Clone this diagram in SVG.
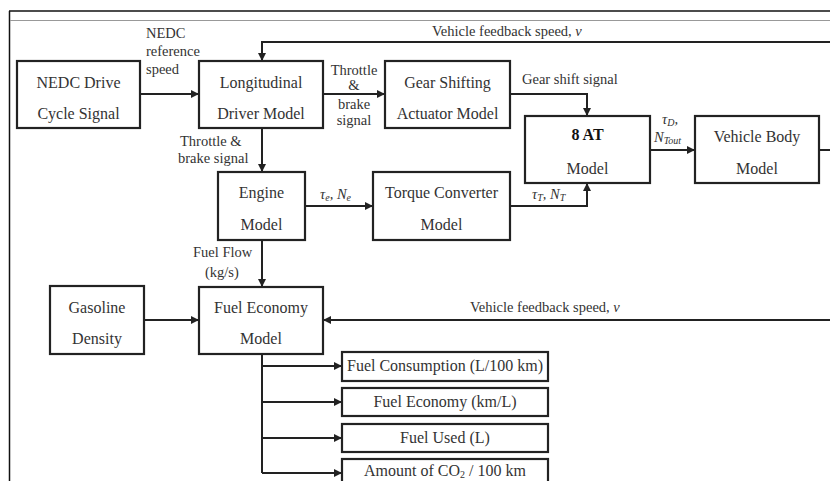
<svg xmlns="http://www.w3.org/2000/svg" width="830" height="481" viewBox="0 0 830 481">
<defs>
<marker id="ah" viewBox="0 0 8 8" refX="8" refY="4" markerWidth="4" markerHeight="4" orient="auto" markerUnits="strokeWidth">
<path d="M0,0 L8,4 L0,8 z" fill="#222"/>
</marker>
<style>
.box{fill:#fff;stroke:#222;stroke-width:2.2}
.nt{font-family:"Liberation Serif","Times New Roman",serif;font-size:16px;fill:#333;text-anchor:middle}
.bt{font-weight:bold;fill:#111}
.lb{font-family:"Liberation Serif","Times New Roman",serif;font-size:14.5px;fill:#333}
.it{font-style:italic}
.c{fill:none;stroke:#222;stroke-width:2}
.a{marker-end:url(#ah)}
</style>
</defs>
<rect x="0" y="0" width="830" height="481" fill="#fff"/>
<g id="frame">
<line x1="9" y1="11" x2="830" y2="11" stroke="#111" stroke-width="1.5"/>
<line x1="9.5" y1="11" x2="9.5" y2="481" stroke="#111" stroke-width="1.5"/>
<line x1="10" y1="20.5" x2="830" y2="20.5" stroke="#999" stroke-width="1"/>
</g>
<g id="connectors">
<path class="c a" d="M830,42 H262 V61"/>
<path class="c a" d="M140,94 H199"/>
<path class="c a" d="M323,94 H385"/>
<path class="c a" d="M510,94 H587 V116"/>
<path class="c a" d="M262,128 V172"/>
<path class="c a" d="M305,206 H373"/>
<path class="c a" d="M510,206 H587 V183"/>
<path class="c a" d="M650,150 H695"/>
<path class="c" d="M819,150 H830"/>
<path class="c a" d="M262,240 V287"/>
<path class="c a" d="M144,320 H199"/>
<path class="c a" d="M830,320 H323"/>
<path class="c" d="M262,354 V473"/>
<path class="c a" d="M262,366 H342"/>
<path class="c a" d="M262,402 H342"/>
<path class="c a" d="M262,438 H342"/>
<path class="c a" d="M262,473 H342"/>
</g>
<g id="labels">
<text class="lb" x="146" y="38">NEDC</text>
<text class="lb" x="146" y="56">reference</text>
<text class="lb" x="146" y="74">speed</text>
<text class="lb" x="354" y="75" text-anchor="middle">Throttle</text>
<text class="lb" x="354" y="90" text-anchor="middle">&amp;</text>
<text class="lb" x="354" y="109" text-anchor="middle">brake</text>
<text class="lb" x="354" y="125" text-anchor="middle">signal</text>
<text class="lb" x="432" y="36">Vehicle feedback  speed, <tspan class="it">v</tspan></text>
<text class="lb" x="522" y="84">Gear shift signal</text>
<text class="lb" x="180" y="146">Throttle &amp;</text>
<text class="lb" x="178" y="163">brake signal</text>
<text class="lb it" x="320" y="199">τ<tspan font-size="10" dy="2">e</tspan><tspan dy="-2">, N</tspan><tspan font-size="10" dy="2">e</tspan></text>
<text class="lb it" x="532" y="199">τ<tspan font-size="10" dy="2">T</tspan><tspan dy="-2">, N</tspan><tspan font-size="10" dy="2">T</tspan></text>
<text class="lb it" x="662" y="124">τ<tspan font-size="10" dy="2">D</tspan><tspan dy="-2">,</tspan></text>
<text class="lb it" x="654" y="142">N<tspan font-size="10" dy="2">Tout</tspan></text>
<text class="lb" x="193" y="257">Fuel Flow</text>
<text class="lb" x="205" y="277">(kg/s)</text>
<text class="lb" x="470" y="312">Vehicle feedback  speed, <tspan class="it">v</tspan></text>
</g>
<g id="nedc">
<rect class="box" x="17" y="61" width="123" height="67"/>
<text class="nt" x="78.5" y="88">NEDC Drive</text>
<text class="nt" x="78.5" y="119">Cycle Signal</text>
</g>
<g id="driver">
<rect class="box" x="199" y="61" width="124" height="67"/>
<text class="nt" x="261" y="88">Longitudinal</text>
<text class="nt" x="261" y="119">Driver Model</text>
</g>
<g id="gear">
<rect class="box" x="385" y="61" width="125" height="67"/>
<text class="nt" x="447.5" y="88">Gear Shifting</text>
<text class="nt" x="447.5" y="119">Actuator Model</text>
</g>
<g id="at8">
<rect class="box" x="525" y="116" width="125" height="67"/>
<text class="nt bt" x="587.5" y="140">8 AT</text>
<text class="nt" x="587.5" y="174">Model</text>
</g>
<g id="vehicle">
<rect class="box" x="695" y="116" width="124" height="67"/>
<text class="nt" x="757" y="142">Vehicle Body</text>
<text class="nt" x="757" y="174">Model</text>
</g>
<g id="engine">
<rect class="box" x="218" y="172" width="87" height="68"/>
<text class="nt" x="261.5" y="198">Engine</text>
<text class="nt" x="261.5" y="230">Model</text>
</g>
<g id="torque">
<rect class="box" x="373" y="172" width="137" height="68"/>
<text class="nt" x="441.5" y="198">Torque Converter</text>
<text class="nt" x="441.5" y="230">Model</text>
</g>
<g id="gasoline">
<rect class="box" x="50" y="286" width="94" height="68"/>
<text class="nt" x="97" y="313">Gasoline</text>
<text class="nt" x="97" y="344">Density</text>
</g>
<g id="fueleco">
<rect class="box" x="199" y="287" width="124" height="67"/>
<text class="nt" x="261" y="313">Fuel Economy</text>
<text class="nt" x="261" y="344">Model</text>
</g>
<g id="out1">
<rect class="box" x="342" y="352" width="206" height="29"/>
<text class="nt" x="445" y="371" font-size="15">Fuel Consumption (L/100 km)</text>
</g>
<g id="out2">
<rect class="box" x="342" y="388" width="206" height="28"/>
<text class="nt" x="445" y="407" font-size="15">Fuel Economy (km/L)</text>
</g>
<g id="out3">
<rect class="box" x="342" y="424" width="206" height="28"/>
<text class="nt" x="445" y="443" font-size="15">Fuel Used (L)</text>
</g>
<g id="out4">
<rect class="box" x="342" y="459" width="206" height="30"/>
<text class="nt" x="445" y="476" font-size="15">Amount of CO<tspan font-size="10" dy="2">2</tspan><tspan dy="-2"> / 100 km</tspan></text>
</g>
</svg>
